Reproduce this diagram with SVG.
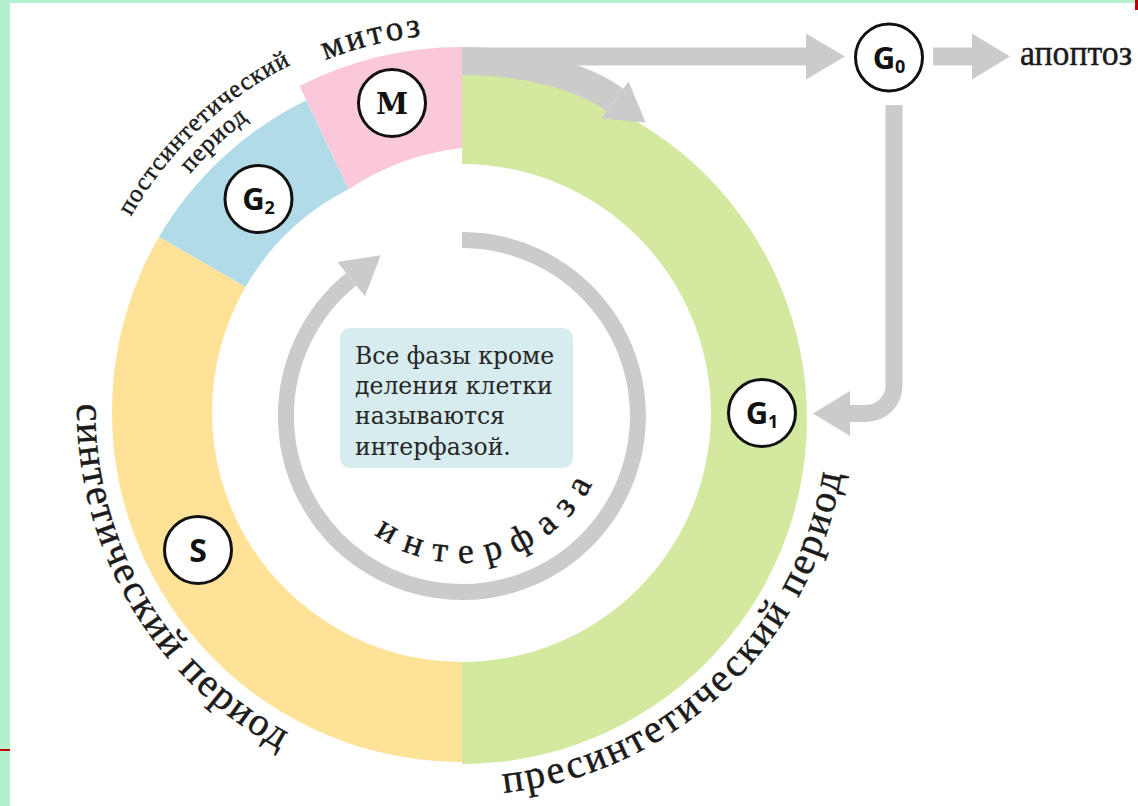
<svg xmlns="http://www.w3.org/2000/svg" width="1138" height="806" viewBox="0 0 1138 806">
  <style>
    .gray { fill: #cbcbcb; }
    .gline { fill: none; stroke: #cbcbcb; }
    .node circle { fill: #ffffff; stroke: #111111; stroke-width: 3; }
    .g { font-family: "Open Sans", "Noto Sans", sans-serif; font-weight: 700; fill: #111111; }
    .m { font-family: "DejaVu Serif", "Liberation Serif", serif; font-weight: 700; fill: #111111; }
    .lbl { font-family: "Liberation Serif", "DejaVu Serif", serif; fill: #1b1b1b; stroke: #1b1b1b; stroke-width: 0.45; }
    .note { font-family: "DejaVu Serif", "Liberation Serif", serif; fill: #262626; }
  </style>
  <defs>
    <!-- baselines for the curved labels -->
    <path id="arc-mitosis" d="M 223.5 120.8 A 371 371 0 0 1 526.4 39.6"/>
    <path id="arc-g2-a" d="M 93.9 306.4 A 381 381 0 0 1 395.8 29.8"/>
    <path id="arc-g2-b" d="M 117.2 312.6 A 357 357 0 0 1 400 53.4"/>
    <path id="arc-s" d="M 128.6 217.5 A 385 385 0 0 0 462 795"/>
    <path id="arc-g1" d="M 462 795 A 385 385 0 0 0 841.1 343.1"/>
    <path id="arc-inter" d="M 315 416 A 147 147 0 0 0 609 416"/>
  </defs>

  <rect width="1138" height="806" fill="#ffffff"/>
  <!-- page edge -->
  <rect x="0" y="0" width="10" height="806" fill="#b4f0cd"/>
  <rect x="0" y="0" width="1138" height="3" fill="#b4f0cd"/>
  <rect x="0" y="749" width="10" height="2" fill="#c00000"/>
  <rect x="1135" y="0" width="3" height="10" fill="#c00000"/>

  <!-- cell-cycle ring -->
  <g id="ring">
    <path id="seg-M" fill="#fbc8da" d="M 462 47 A 358 358 0 0 0 299.5 86 L 348.5 189.3 A 257 257 0 0 1 462 148 Z"/>
    <path id="seg-G2" fill="#b2dbe8" d="M 306.2 100.2 A 350 350 0 0 0 158.9 237 L 245.5 287 A 250 250 0 0 1 348.5 189.3 Z"/>
    <path id="seg-S" fill="#fde298" d="M 158.9 237 A 350 350 0 0 0 462 762 L 462 662 A 250 250 0 0 1 245.5 287 Z"/>
    <path id="seg-G1" fill="#d3e9a0" d="M 462 74 A 345 345 0 0 1 462 764 L 462 662 A 249 249 0 0 0 462 164 Z"/>
  </g>

  <!-- connectors -->
  <g id="connectors">
    <!-- M -> G0 -->
    <rect class="gray" x="462" y="47.5" width="346" height="18"/>
    <polygon class="gray" points="806,33.5 845,56.5 806,79.5"/>
    <!-- M -> G1 -->
    <path class="gline" stroke-width="28" d="M 462 61 C 530 61, 585 78, 615 100"/>
    <polygon class="gray" points="628.6,81.5 645.6,122.5 601.4,118.5"/>
    <!-- G0 -> apoptosis -->
    <rect class="gray" x="933" y="47.5" width="40" height="18"/>
    <polygon class="gray" points="972,33.5 1010,56.5 972,79.5"/>
    <!-- G0 -> G1 -->
    <path class="gline" stroke-width="17" d="M 894 105 V 385.5 A 28 28 0 0 1 866 413.5 H 848"/>
    <polygon class="gray" points="850,391 850,436 813,413.5"/>
    <!-- interphase loop -->
    <path class="gline" stroke-width="16" d="M 462 240 A 176 176 0 1 1 351.2 279.2"/>
    <polygon class="gray" points="337.4,262.1 380.7,255.3 365,296.3"/>
  </g>

  <!-- note -->
  <g id="note">
    <rect x="340" y="328" width="233" height="140" rx="10" fill="#d6ecee"/>
    <text class="note" font-size="23.5">
      <tspan x="355" y="364">Все фазы кроме</tspan>
      <tspan x="355" y="394">деления клетки</tspan>
      <tspan x="355" y="424">называются</tspan>
      <tspan x="355" y="455">интерфазой.</tspan>
    </text>
  </g>

  <!-- phase nodes -->
  <g id="node-M" class="node">
    <circle cx="392" cy="103" r="33.5"/>
    <text class="m" x="392" y="114" font-size="29" text-anchor="middle">M</text>
  </g>
  <g id="node-G2" class="node">
    <circle cx="258.5" cy="199" r="33.5"/>
    <text class="g" x="258.5" y="210" font-size="31" text-anchor="middle">G<tspan font-size="18" dy="4">2</tspan></text>
  </g>
  <g id="node-S" class="node">
    <circle cx="198" cy="550" r="33.5"/>
    <text class="g" x="198" y="561.5" font-size="32" text-anchor="middle">S</text>
  </g>
  <g id="node-G1" class="node">
    <circle cx="762" cy="413" r="33.5"/>
    <text class="g" x="762" y="424" font-size="31" text-anchor="middle">G<tspan font-size="18" dy="4">1</tspan></text>
  </g>
  <g id="node-G0" class="node">
    <circle cx="889" cy="57.5" r="33.5"/>
    <text class="g" x="889" y="68.5" font-size="31" text-anchor="middle">G<tspan font-size="18" dy="4">0</tspan></text>
  </g>

  <!-- labels -->
  <g id="labels">
    <text class="lbl" x="1020" y="65" font-size="36" textLength="112" lengthAdjust="spacingAndGlyphs">апоптоз</text>
    <text class="lbl" font-size="35" letter-spacing="3"><textPath href="#arc-mitosis" startOffset="52.5%" text-anchor="middle">митоз</textPath></text>
    <text class="lbl" font-size="25" letter-spacing="1" stroke-width="0.3"><textPath href="#arc-g2-a" startOffset="48.5%" text-anchor="middle">постсинтетический</textPath></text>
    <text class="lbl" font-size="25" letter-spacing="1" stroke-width="0.3"><textPath href="#arc-g2-b" startOffset="49%" text-anchor="middle">период</textPath></text>
    <text class="lbl" font-size="40" letter-spacing="2"><textPath href="#arc-s" startOffset="50.5%" text-anchor="middle">синтетический период</textPath></text>
    <text class="lbl" font-size="40" letter-spacing="2.5"><textPath href="#arc-g1" startOffset="43.5%" text-anchor="middle">пресинтетический период</textPath></text>
    <text class="lbl" font-size="36" letter-spacing="12"><textPath href="#arc-inter" startOffset="58.5%" text-anchor="middle">интерфаза</textPath></text>
  </g>
</svg>
